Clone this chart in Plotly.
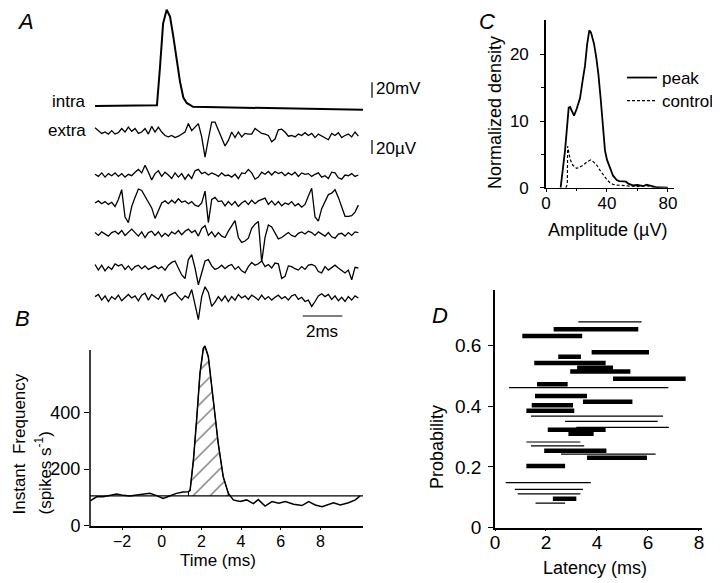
import numpy as np
import plotly.graph_objects as go

# ======================= DATA =======================
# --- Panel A: intracellular spike (mV, deflection from rest) ---
intra_time_ms = [-3.36, -0.24, -0.09, 0.07, 0.25, 0.42, 0.58, 0.76, 0.92, 1.09, 1.26, 1.58, 10.15]
intra_mv = [0, 1, 49, 107, 125, 116, 91, 61, 32, 11, 4, -1, -5]

# --- Panel A: extracellular sweeps (µV), sampled every 0.168 ms from -3.36 ms ---
extra_start_ms = -3.36
extra_step_ms = 0.168
extra_1_uv = [6, 2, -2, 0, -3, 2, -3, -1, 5, 0, 7, 1, 5, -2, 0, 5, -3, 8, 0, 7,
              0, -5, -7, -5, -8, -6, -3, 0, 12, 2, 7, 12, -7, -36, -10, 14, 14, 2, -9, -20,
              -12, 0, -8, 0, -7, -2, -3, -3, 5, 2, -2, -3, -5, -14, -10, 3, 4, 0, -6, -5,
              -7, -3, -5, -1, -5, -2, -8, -3, -6, -8, -11, -2, -5, -1, -8, -5, -3, -7, 0, -6]
extra_2_uv = [1, -2, 3, -3, 2, -1, 3, -2, 2, -3, 1, -1, 4, 8, 3, 14, 4, -7, 2, 6,
              -2, 4, 0, -5, 3, -3, 2, -6, 1, -5, 6, 8, 2, 4, 0, 3, 1, -2, 3, -1,
              0, -3, 1, -5, 3, 2, 8, 3, -6, -3, 4, 1, 5, 0, 5, 2, 4, -1, 3, 0,
              4, -2, 3, 1, 2, -2, 1, 3, -3, -1, -5, 4, 3, -4, -6, 0, -1, 2, -2, 0]
extra_3_uv = [0, 3, -1, 2, -2, 1, -5, 5, 19, -20, -28, -5, 8, 20, 18, 10, 2, -7, -22, -10,
              0, 3, -1, 4, 0, 6, 1, 3, -1, 2, -3, -5, 0, 17, -28, 5, 8, 2, 3, -4,
              2, -3, 2, -5, 0, 3, -2, 4, -1, 3, 5, 7, -2, 3, -3, 2, -4, 0, -2, 2,
              -4, -1, -6, -2, 10, 21, -20, -26, -8, 3, 12, 14, 19, 8, -5, -19, -19, -18, -13, -3]
extra_4_uv = [2, -2, 3, 0, -3, 2, 4, 0, 5, -2, 3, 7, 2, -3, 3, -5, 2, 4, -2, 3,
              -4, 1, -3, 3, 0, 5, -1, 4, 7, 2, 5, -3, 8, 12, -2, 3, -4, 2, -3, -5,
              4, 12, 19, -5, -12, -10, -6, 8, 14, 18, -40, -5, 13, 10, 2, -7, -5, -1, 2, -2,
              -4, 1, 3, 0, 4, 2, -2, 3, 0, -3, 2, -4, -6, 0, 1, -3, 2, -2, 3, 2]
extra_5_uv = [5, -3, 4, -4, 2, -2, 6, 3, 5, -2, 3, -3, 2, 4, -1, 3, -2, 1, 3, -1,
              2, -3, 4, 8, 10, 0, -10, -15, 12, 19, 0, -24, -8, 10, 12, 3, -2, 0, 4, -1,
              3, 5, -2, 2, -4, -7, 2, 8, 4, 6, 10, 2, 5, 0, 7, 6, -15, -12, 3, 2,
              -1, -3, 2, -2, 4, 5, 3, -5, -7, 2, -3, 1, 4, 0, -3, -7, -3, -17, 1, 0]
extra_6_uv = [2, 5, -3, 3, -5, 2, -2, 4, -4, 1, 5, 0, 3, -4, 4, 7, -3, 5, 2, -2,
              6, -6, 3, 5, 8, 2, -3, 3, 0, 12, -8, -31, 2, 16, 8, -12, -6, 2, -4, 3,
              -5, 2, -3, 5, 0, 3, -2, 4, 1, -3, 4, -2, 2, -3, 1, 4, -1, 2, -3, 3,
              5, -2, 1, -5, -3, -12, -5, 3, 6, 2, 5, -2, 3, -4, 1, -5, 2, -3, 3, 0]

# --- Panel B: instantaneous frequency (spikes/s) ---
freq_time_ms = [-3.6, -3.53, -3.28, -2.94, -2.6, -2.27, -1.93, -1.6, -1.26, -0.93, -0.6, -0.26,
                0.07, 0.4, 0.74, 1.08, 1.33, 1.43, 1.6, 1.76, 1.93, 2.1, 2.18, 2.35, 2.6,
                2.85, 3.1, 3.36, 3.61, 3.95, 4.28, 4.62, 4.87, 5.21, 5.56, 5.9, 6.23, 6.65,
                7.07, 7.41, 7.74, 8.08, 8.41, 8.66, 9.0, 9.42, 9.76, 10.0]
freq_hz = [88, 91, 102, 102, 107, 112, 107, 105, 108, 112, 114, 106,
           96, 105, 114, 119, 120, 124, 232, 373, 538, 626, 634, 596, 432,
           290, 173, 114, 91, 85, 91, 78, 92, 69, 85, 79, 85, 76,
           71, 85, 73, 67, 75, 81, 73, 81, 91, 105]
freq_baseline_hz = 105
peak_window_ms = [1.35, 3.4]

# --- Panel C: amplitude densities ---
amp_peak_uv = [9.6, 12.5, 14.9, 15.8, 16.8, 18.4, 20.1, 22.3, 24.0, 25.6, 27.0, 28.4, 29.5,
               31.5, 33.0, 34.4, 36.0, 37.2, 38.7, 40.0, 42.0, 44.0, 46.4, 48.0, 50.8, 52.5,
               54.0, 57.0, 60.0, 64.0, 66.0, 68.0, 72.0, 80.0]
dens_peak = [0, 5.6, 12.0, 12.1, 11.6, 10.8, 11.8, 13.4, 16.0, 18.3, 21.5, 23.6, 23.3,
             21.6, 19.5, 17.0, 13.0, 9.6, 5.6, 4.2, 2.9, 1.8, 1.15, 1.0, 0.95, 0.9,
             0.6, 0.35, 0.4, 0.25, 0.45, 0.3, 0.1, 0]
amp_ctrl_uv = [13.0, 14.0, 14.2, 15.0, 15.8, 17.5, 20.1, 22.3, 24.5, 27.0, 29.3, 31.0,
               33.3, 35.5, 37.6, 40.0, 42.0, 44.0, 46.4, 50.8, 55.0, 60.0, 66.0, 70.0, 75.0]
dens_ctrl = [0, 0.5, 6.2, 5.4, 4.3, 3.4, 2.9, 3.1, 3.4, 3.9, 4.15, 3.9,
             3.4, 2.6, 1.9, 1.2, 0.75, 0.5, 0.4, 0.35, 0.25, 0.15, 0.3, 0.1, 0]

# --- Panel D: latency ranges per pair ---
lat_start_ms = [3.27, 2.30, 1.07, 3.79, 2.48, 1.54, 3.22, 2.95, 4.63, 1.65, 0.55, 1.57, 3.45,
                1.44, 1.23, 1.41, 2.75, 3.19, 2.07, 2.88, 1.23, 1.41, 1.93, 2.59, 3.61,
                1.23, 0.42, 0.78, 0.89, 2.27, 1.59]
lat_end_ms = [5.75, 5.62, 3.42, 6.04, 3.37, 4.34, 4.63, 5.31, 7.48, 2.85, 6.80, 3.61, 5.39,
              3.06, 3.11, 6.59, 6.38, 6.82, 4.34, 3.87, 3.35, 3.50, 4.37, 6.30, 5.96,
              2.75, 3.76, 3.45, 3.35, 3.19, 2.75]
lat_prob = [0.677, 0.653, 0.631, 0.577, 0.562, 0.542, 0.526, 0.514, 0.490, 0.472, 0.461, 0.433,
            0.414, 0.403, 0.385, 0.367, 0.350, 0.330, 0.322, 0.309, 0.282, 0.269, 0.253,
            0.242, 0.230, 0.203, 0.148, 0.126, 0.111, 0.095, 0.081]
lat_significant = [False, True, True, True, True, True, True, True, True, True, False, True,
                   True, True, True, False, False, False, True, True, False, False, True,
                   False, True, True, False, False, False, True, False]

# ======================= LAYOUT GEOMETRY (page pixels) =======================
PAGE_W, PAGE_H = 720, 583
OFF = 8                      # default body margin of the html page
W, H = PAGE_W - OFF, PAGE_H - OFF
FONT = "Liberation Sans, Arial, Helvetica, sans-serif"
PX_PER_MS = 19.84
T0_PX = 161.7
B_LEFT, B_RIGHT = 90.0, 363.0
T_MIN = (B_LEFT - T0_PX) / PX_PER_MS
T_MAX = (B_RIGHT - T0_PX) / PX_PER_MS
MV_PX = 0.77     # px per mV (intra)
UV_PX = 0.7      # px per µV (extra)
INTRA_BASE = 106
EXTRA_BASES = [132, 175, 203, 234, 268, 298]


def xp(px):
    return (px - OFF) / W


def yp(py):
    return 1 - (py - OFF) / H


fig = go.Figure()

# ---------------- Panel A ----------------
fig.add_trace(go.Scatter(x=intra_time_ms, y=[-INTRA_BASE + v * MV_PX for v in intra_mv],
                         mode="lines", line=dict(color="black", width=2),
                         xaxis="x4", yaxis="y4", showlegend=False, hoverinfo="skip"))
sweeps = [extra_1_uv, extra_2_uv, extra_3_uv, extra_4_uv, extra_5_uv, extra_6_uv]
for base, sw in zip(EXTRA_BASES, sweeps):
    tt = extra_start_ms + extra_step_ms * np.arange(len(sw))
    fig.add_trace(go.Scatter(x=tt, y=[-base + v * UV_PX for v in sw], mode="lines",
                             line=dict(color="black", width=1.3),
                             xaxis="x4", yaxis="y4", showlegend=False, hoverinfo="skip"))

# ---------------- Panel B ----------------
t = np.array(freq_time_ms)
f = np.array(freq_hz)
ta, tb = peak_window_ms
sel = (t > ta) & (t < tb)
poly_x = [ta, ta] + [float(v) for v in t[sel]] + [tb, tb]
poly_y = [freq_baseline_hz, float(np.interp(ta, t, f))] + [float(v) for v in f[sel]] + \
         [float(np.interp(tb, t, f)), freq_baseline_hz]
fig.add_trace(go.Scatter(x=poly_x, y=poly_y, mode="lines", fill="toself",
                         fillcolor="white",
                         fillpattern=dict(shape="/", fgcolor="black", bgcolor="white",
                                          size=12, solidity=0.12),
                         line=dict(color="black", width=1),
                         xaxis="x", yaxis="y", showlegend=False, hoverinfo="skip"))
fig.add_trace(go.Scatter(x=[T_MIN, T_MAX], y=[freq_baseline_hz, freq_baseline_hz], mode="lines",
                         line=dict(color="black", width=1.2), xaxis="x", yaxis="y",
                         showlegend=False, hoverinfo="skip"))
fig.add_trace(go.Scatter(x=freq_time_ms, y=freq_hz, mode="lines",
                         line=dict(color="black", width=1.5), xaxis="x", yaxis="y",
                         showlegend=False, hoverinfo="skip"))

# ---------------- Panel C ----------------
fig.add_trace(go.Scatter(x=amp_peak_uv, y=dens_peak, mode="lines", name="peak",
                         line=dict(color="black", width=1.8), xaxis="x2", yaxis="y2",
                         legend="legend"))
fig.add_trace(go.Scatter(x=amp_ctrl_uv, y=dens_ctrl, mode="lines", name="control",
                         line=dict(color="black", width=1.2, dash="3px,2px"),
                         xaxis="x2", yaxis="y2", legend="legend2"))

# ---------------- Panel D ----------------
thick_x, thick_y, thin_x, thin_y = [], [], [], []
for s, e, p, sig in zip(lat_start_ms, lat_end_ms, lat_prob, lat_significant):
    if sig:
        thick_x += [s, e, None]
        thick_y += [p, p, None]
    else:
        thin_x += [s, e, None]
        thin_y += [p, p, None]
fig.add_trace(go.Scatter(x=thin_x, y=thin_y, mode="lines", line=dict(color="black", width=1.2),
                         xaxis="x3", yaxis="y3", showlegend=False, hoverinfo="skip"))
fig.add_trace(go.Scatter(x=thick_x, y=thick_y, mode="lines", line=dict(color="black", width=4.5),
                         xaxis="x3", yaxis="y3", showlegend=False, hoverinfo="skip"))

# ---------------- Axes ----------------
ax_common = dict(showgrid=False, zeroline=False, color="black", linecolor="black",
                 tickcolor="black", fixedrange=True, automargin=False)

B_BOTTOM = 525.7
B_PX_PER_HZ = 0.2835
B_YMAX = 640
fig.update_layout(
    xaxis=dict(**ax_common, domain=[xp(B_LEFT), xp(B_RIGHT)], range=[T_MIN, T_MAX], anchor="y",
               showline=True, linewidth=1.5, ticks="outside", ticklen=3,
               tickvals=[-2, 0, 2, 4, 6, 8], ticklabelstandoff=-3,
               tickfont=dict(size=16, family=FONT)),
    yaxis=dict(**ax_common, domain=[yp(B_BOTTOM), yp(B_BOTTOM - B_YMAX * B_PX_PER_HZ)],
               range=[0, B_YMAX], anchor="x", showline=False, ticks="outside", ticklen=5,
               tickvals=[0, 200, 400], tickfont=dict(size=18, family=FONT)),
    xaxis2=dict(**ax_common, domain=[xp(546), xp(674)], range=[0, 84], anchor="y2",
                showline=True, linewidth=1.2, ticks="outside", ticklen=3,
                tickvals=[0, 40, 80], ticklabelstandoff=-3,
                minor=dict(tickvals=[20, 60], ticks="outside", ticklen=2, tickcolor="black"),
                tickfont=dict(size=17, family=FONT)),
    yaxis2=dict(**ax_common, domain=[yp(187.7), yp(20)], range=[0, 25.15], anchor="x2",
                showline=True, linewidth=1.6, ticks="outside", ticklen=4,
                tickvals=[0, 10, 20], ticklabelstandoff=8,
                minor=dict(tickvals=[5, 15], ticks="outside", ticklen=3, tickcolor="black"),
                tickfont=dict(size=17, family=FONT)),
    xaxis3=dict(**ax_common, domain=[xp(495), xp(702)], range=[0, 8.12], anchor="y3",
                showline=True, linewidth=1.5, ticks="outside", ticklen=2,
                tickvals=[0, 2, 4, 6, 8], ticklabelstandoff=-5,
                tickfont=dict(size=19, family=FONT)),
    yaxis3=dict(**ax_common, domain=[yp(527.7), yp(290)], range=[0, 0.782], anchor="x3",
                showline=True, linewidth=1.6, ticks="outside", ticklen=5,
                tickvals=[0, 0.2, 0.4, 0.6], ticktext=["0", "0.2", "0.4", "0.6"],
                ticklabelstandoff=3, tickfont=dict(size=19, family=FONT)),
    xaxis4=dict(domain=[xp(B_LEFT), xp(B_RIGHT)], range=[T_MIN, T_MAX], visible=False,
                anchor="y4", fixedrange=True),
    yaxis4=dict(domain=[0, 1], range=[-PAGE_H, -OFF], visible=False, anchor="x4",
                fixedrange=True),
)

# ---------------- Shapes (axis line of B, scale bars) ----------------
shapes = [
    dict(type="line", xref="paper", yref="paper", x0=xp(B_LEFT), x1=xp(B_LEFT),
         y0=yp(528), y1=yp(350), line=dict(color="black", width=1.5), layer="above"),
    # 20 mV scale bar
    dict(type="line", xref="paper", yref="paper", x0=xp(372), x1=xp(372),
         y0=yp(90 - 10 * MV_PX), y1=yp(90 + 10 * MV_PX), line=dict(color="black", width=1.2)),
    # 20 µV scale bar
    dict(type="line", xref="paper", yref="paper", x0=xp(372), x1=xp(372),
         y0=yp(147 - 10 * UV_PX), y1=yp(147 + 10 * UV_PX), line=dict(color="black", width=1.2)),
    # 2 ms scale bar
    dict(type="line", xref="paper", yref="paper", x0=xp(302.7), x1=xp(302.7 + 2 * PX_PER_MS),
         y0=yp(316), y1=yp(316), line=dict(color="black", width=1.2)),
]

# ---------------- Text ----------------
anns = []


def ann(text, px, py, size=17, angle=0, xanchor="center", yanchor="middle"):
    anns.append(dict(text=text, x=xp(px), y=yp(py), xref="paper", yref="paper",
                     showarrow=False, textangle=angle, xanchor=xanchor, yanchor=yanchor,
                     font=dict(size=size, family=FONT, color="black")))


ann("<i>A</i>", 25, 21, size=22)
ann("<i>B</i>", 22, 318, size=22)
ann("<i>C</i>", 487, 21, size=22)
ann("<i>D</i>", 440, 315, size=22)
ann("intra", 88, 101, xanchor="right")
ann("extra", 88, 130, xanchor="right")
ann("20mV", 374, 89, xanchor="left")
ann("20µV", 374, 148, xanchor="left")
ann("2ms", 322, 331)
ann("Instant  Frequency", 19, 517, angle=-90, yanchor="bottom")
ann("(spikes s<sup>-1</sup>)", 43, 517, angle=-90, yanchor="bottom")
ann("Time (ms)", 218, 560)
ann("Normalized density", 495, 113, size=18, angle=-90)
ann("Amplitude (µV)", 607, 230, size=18)
ann("Probability", 437, 447, size=18, angle=-90)
ann("Latency (ms)", 595, 568, size=18)

leg_common = dict(xanchor="left", yanchor="top", bgcolor="rgba(0,0,0,0)", borderwidth=0,
                  font=dict(size=17, family=FONT), itemwidth=30)
fig.update_layout(
    width=W, height=H, autosize=False,
    margin=dict(l=0, r=0, t=0, b=0, pad=0, autoexpand=False),
    paper_bgcolor="white", plot_bgcolor="rgba(0,0,0,0)",
    font=dict(family=FONT, color="black", size=17),
    shapes=shapes, annotations=anns,
    hovermode=False,
    showlegend=True,
    legend=dict(x=xp(622), y=yp(60), **leg_common),
    legend2=dict(x=xp(622), y=yp(83), **leg_common),
)

fig.write_html("out.html")
